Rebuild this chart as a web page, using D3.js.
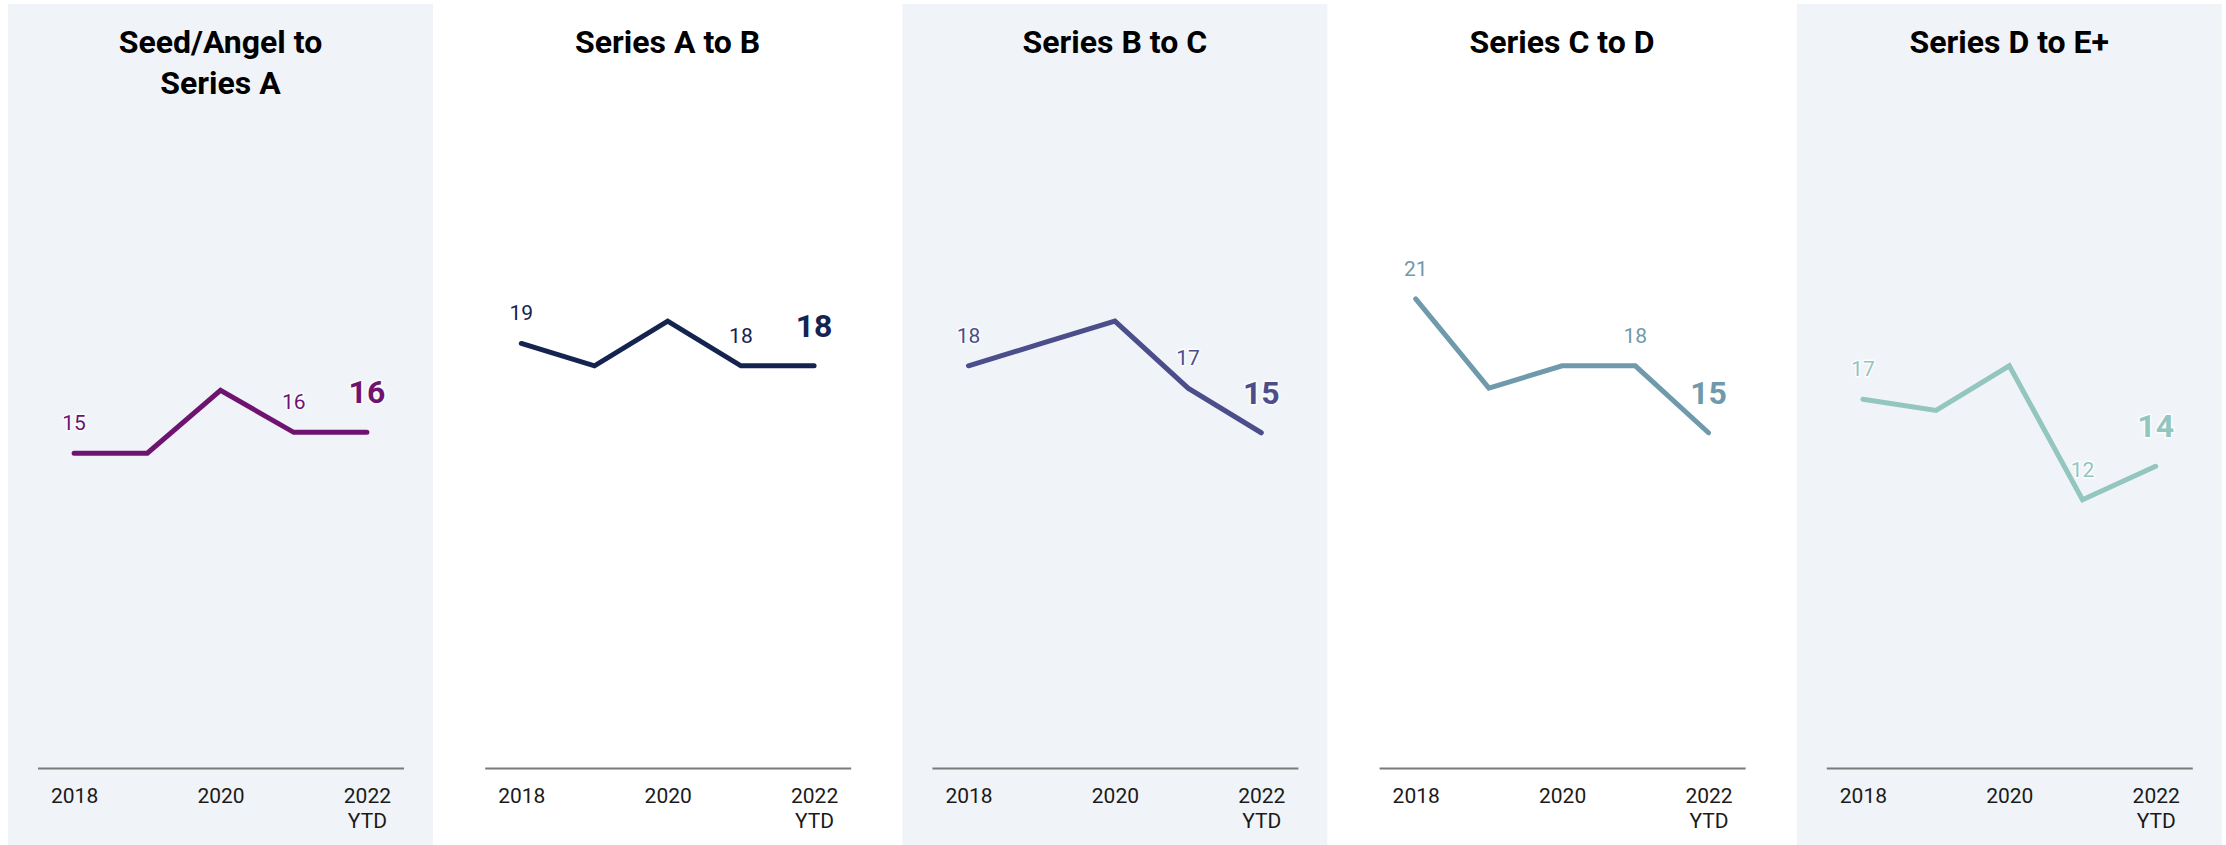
<!DOCTYPE html>
<html>
<head>
<meta charset="utf-8">
<script src="https://cdn.jsdelivr.net/npm/d3@7"></script>
<style>
  html, body { margin: 0; padding: 0; background: #ffffff; }
  svg { display: block; font-family: Roboto, "Noto Sans", Arial, sans-serif; }
</style>
</head>
<body>
<svg id="chart" width="2226" height="845"></svg>
<script>
// ---- Data ----
const years = ["2018", "2019", "2020", "2021", "2022 YTD"];
const tickYears = ["2018", "2020", "2022 YTD"];
const panelTitles = [
  ["Seed/Angel to", "Series A"],
  ["Series A to B"],
  ["Series B to C"],
  ["Series C to D"],
  ["Series D to E+"]
];
const seedToA = [15, 15, 18, 16, 16];
const aToB    = [19, 18, 20, 18, 18];
const bToC    = [18, 19, 20, 17, 15];
const cToD    = [21, 17, 18, 18, 15];
const dToE    = [16.5, 16, 18, 12, 13.5];
const seriesValues = [seedToA, aToB, bToC, cToD, dToE];
const lineColors = ["#6e1470", "#14234f", "#4b4e8a", "#6f9aac", "#92c6be"];
const smallLabelIdx = [0, 3];
const bigLabelIdx = 4;
const yDomain = [0, 30];

// ---- Layout ----
const svg = d3.select("#chart");
const panelStep = 447.2, panelLeft0 = 8, panelW = 425;
const axisY = 768;

panelTitles.forEach((title, i) => {
  const px = panelLeft0 + i * panelStep;
  const g = svg.append("g").attr("transform", `translate(${px},0)`);

  if (i % 2 === 0) {
    g.append("rect").attr("x", 0).attr("y", 4).attr("width", panelW).attr("height", 845 - 4)
      .attr("fill", "#f0f4f8");
  }

  // title
  const t = g.append("text").attr("text-anchor", "middle")
    .attr("font-size", 32).attr("font-weight", 700).attr("fill", "#000");
  title.forEach((line, k) => {
    t.append("tspan").attr("x", panelW / 2).attr("y", 53 + k * 40.6).text(line);
  });

  const x = d3.scalePoint().domain(years).range([29.5, 395.5]).padding(0.5);
  const top = 98 + (title.length - 1) * 41;
  const y = d3.scaleLinear().domain(yDomain).range([767.5, top]);

  // axis
  const ax = g.append("g").attr("transform", `translate(0,${axisY})`)
    .call(d3.axisBottom(x).tickValues(tickYears).tickSize(0).tickSizeOuter(0).tickPadding(20));
  ax.select(".domain").attr("stroke", "#7a7a7a").attr("stroke-width", 2);
  ax.selectAll(".tick text").each(function(d) {
    const el = d3.select(this);
    const parts = d.split(" ");
    el.text(null).attr("font-size", 21).attr("fill", "#1a1a1a")
      .attr("font-family", "Roboto, 'Noto Sans', Arial, sans-serif");
    parts.forEach((p, k) => {
      el.append("tspan").attr("x", 0).attr("dy", k === 0 ? "0.71em" : "1.2em").text(p);
    });
  });

  const vals = seriesValues[i];
  const color = lineColors[i];
  const line = d3.line().x((d, k) => x(years[k])).y(d => y(d));
  g.append("path").datum(vals).attr("d", line)
    .attr("fill", "none").attr("stroke", color).attr("stroke-width", 5)
    .attr("stroke-linejoin", "miter").attr("stroke-linecap", "round");

  // labels
  smallLabelIdx.forEach(k => {
    g.append("text").attr("x", x(years[k])).attr("y", y(vals[k]) - 23)
      .attr("text-anchor", "middle").attr("font-size", 21).attr("fill", color)
      .attr("stroke", "#ffffff").attr("stroke-width", 3).attr("stroke-opacity", 0.8)
      .attr("paint-order", "stroke").attr("stroke-linejoin", "round")
      .text(Math.round(vals[k]));
  });
  g.append("text").attr("x", x(years[bigLabelIdx])).attr("y", y(vals[bigLabelIdx]) - 29)
    .attr("text-anchor", "middle").attr("font-size", 32).attr("font-weight", 700).attr("fill", color)
    .attr("stroke", "#ffffff").attr("stroke-width", 3).attr("stroke-opacity", 0.8)
    .attr("paint-order", "stroke").attr("stroke-linejoin", "round")
    .text(Math.round(vals[bigLabelIdx]));
});
</script>
</body>
</html>
